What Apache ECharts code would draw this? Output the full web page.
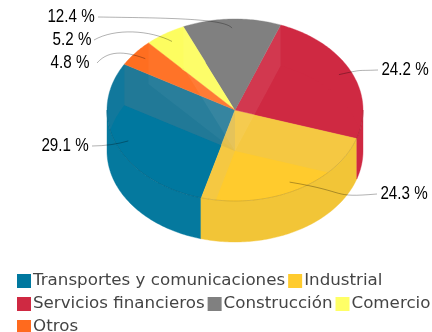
<!DOCTYPE html>
<html>
<head>
<meta charset="utf-8">
<style>html,body{margin:0;padding:0;background:#fff}#c{width:432px;height:332px}</style>
<script src="https://cdn.jsdelivr.net/npm/echarts@6/dist/echarts.min.js"></script>
</head>
<body>
<div id="c"></div>
<script>
const categories = ['Transportes y comunicaciones','Industrial','Servicios financieros','Construcción','Comercio','Otros'];
const values = [29.1,24.3,24.2,12.4,5.2,4.8];

// Styling and layout, kept apart from the data
const legendColors = ['#00789f','#ffcb2d','#cf2942','#808080','#ffff66','#ff6a1e'];
const topColors    = ['#11789c','#f5c83f','#cf2942','#808080','#fdfd60','#ff6e20'];
const overlapColors= ['#00789f','#ffcb2d','#cf2942','#808080','#f4f564','#f96b2b'];
const wallColors   = ['#05799e','#f2c537','#cf2942','#808080','#f4f564','#f96b2b'];
const faceColors   = ['rgba(130,130,130,0.15)','rgba(255,255,255,0.015)','rgba(255,255,255,0.015)','rgba(255,255,255,0.07)','rgba(255,255,255,0.06)','rgba(255,255,255,0.04)'];
const labelCenters = [[65,146],[404,194],[405,70],[71,17],[72,40],[70,63]];
const leaderCtrl   = [[[105,146],[118,144]],[[330,198],[350,192]],[[355,71],[365,69]],[[160,18],[225,18]],[[115,28],[150,30]],[[110,48],[130,53]]];
const CX=235, CY=110, RX=128, RY=91, DEPTH=41, START=210.2;

const total = values.reduce((a,b)=>a+b,0);
const rad = d => d*Math.PI/180;
const angles = []; let acc = START;
values.forEach(v => { const hi = acc; acc -= v/total*360; angles.push([acc,hi]); });
const pt = (t,dy=0,k=1) => [CX+RX*k*Math.cos(rad(t)), CY+dy+RY*k*Math.sin(rad(t))];
function arc(a,b,dy=0){ const p=[]; const n=Math.max(2,Math.ceil(Math.abs(b-a))); for(let i=0;i<=n;i++) p.push(pt(a+(b-a)*i/n,dy)); return p; }
function overlap(a,b){
  const p=[[CX,CY+DEPTH]]; const n=Math.ceil(b-a);
  for(let i=0;i<=n;i++){
    const t=rad(a+(b-a)*i/n), dx=RX*Math.cos(t), dy=RY*Math.sin(t);
    const A=dx*dx/RX/RX+dy*dy/RY/RY, B=2*DEPTH*dy/RY/RY, C=DEPTH*DEPTH/RY/RY-1;
    const s=(-B+Math.sqrt(B*B-4*A*C))/(2*A), r=Math.min(1,s);
    p.push([CX+dx*r,CY+DEPTH+dy*r]);
  }
  return p;
}
// Keep the part of a polygon inside a convex polygon (Sutherland-Hodgman)
function clipConvex(subject, clip){
  let out=subject;
  for(let i=0;i<clip.length;i++){
    const A=clip[i], B=clip[(i+1)%clip.length], inp=out; out=[];
    const side=p=>(B[0]-A[0])*(p[1]-A[1])-(B[1]-A[1])*(p[0]-A[0]);
    for(let j=0;j<inp.length;j++){
      const P=inp[j], Q=inp[(j+1)%inp.length], sp=side(P), sq=side(Q);
      if(sp>=0) out.push(P);
      if((sp>=0)!==(sq>=0)){ const u=sp/(sp-sq); out.push([P[0]+(Q[0]-P[0])*u,P[1]+(Q[1]-P[1])*u]); }
    }
    if(!out.length) break;
  }
  return out;
}
function clipFront(a,b){ const s=Math.max(a,0), e=Math.min(b,180); return e>s?[s,e]:null; }
function render(idx){
  return function(params, api){
    const [a,b]=angles[idx], kids=[];
    const value=api.value(0);
    const poly=(points,fill,z2)=>kids.push({type:'polygon',z2,silent:true,shape:{points},style:{fill,stroke:fill,lineWidth:0.4}});
    const topFace=[[CX,CY]].concat(arc(a,b));
    poly(topFace,topColors[idx],1);
    const ov=clipConvex(overlap(a,b),topFace);
    if(ov.length>2) kids.push({type:'polygon',z2:2,silent:true,shape:{points:ov},style:{fill:overlapColors[idx]}});
    const p0=pt(b);
    kids.push({type:'polygon',z2:3,silent:true,shape:{points:[[CX,CY],p0,[p0[0],p0[1]+DEPTH],[CX,CY+DEPTH]]},style:{fill:faceColors[idx]}});
    const r=clipFront(a,b);
    if(r){
      poly(arc(r[0],r[1]).concat(arc(r[1],r[0],DEPTH)),wallColors[idx],4);
      kids.push({type:'polyline',z2:5,silent:true,shape:{points:arc(r[0],r[1])},style:{fill:null,stroke:'rgba(0,0,0,0.16)',lineWidth:0.7}});
    }
    const mid=(a+b)/2, an=pt(mid,0,0.9), lc=labelCenters[idx], c=leaderCtrl[idx];
    const right=lc[0]>CX, hw=idx==4?22:27;
    kids.push({type:'bezierCurve',z2:6,silent:true,shape:{x1:lc[0]+(right?-hw:hw),y1:lc[1],cpx1:c[0][0],cpy1:c[0][1],cpx2:c[1][0],cpy2:c[1][1],x2:an[0],y2:an[1]},style:{fill:null,stroke:'rgba(0,0,0,0.3)',lineWidth:1}});
    kids.push({type:'text',z2:7,silent:true,x:lc[0],y:lc[1],scaleX:0.82,style:{text:value.toFixed(1)+' %',fill:'#000',font:'18.5px "Liberation Sans"',textAlign:'center',textVerticalAlign:'middle'}});
    return {type:'group',children:kids};
  };
}
const chart = echarts.init(document.getElementById('c'),null,{renderer:'canvas'});
chart.setOption({
  backgroundColor:'#fff', animation:false,
  legend:{left:17,top:271,width:415,padding:0,itemWidth:14,itemHeight:14,itemGap:3,icon:'rect',selectedMode:false,
    data:categories,
    textStyle:{fontFamily:'DejaVu Sans',fontSize:16.7,color:'#444',height:20,lineHeight:20,padding:[0,0,0,-3]}},
  series:categories.map((name,i)=>({type:'custom',name,coordinateSystem:'none',renderItem:render(i),data:[values[i]],itemStyle:{color:legendColors[i]},silent:true}))
});
</script>
</body>
</html>
